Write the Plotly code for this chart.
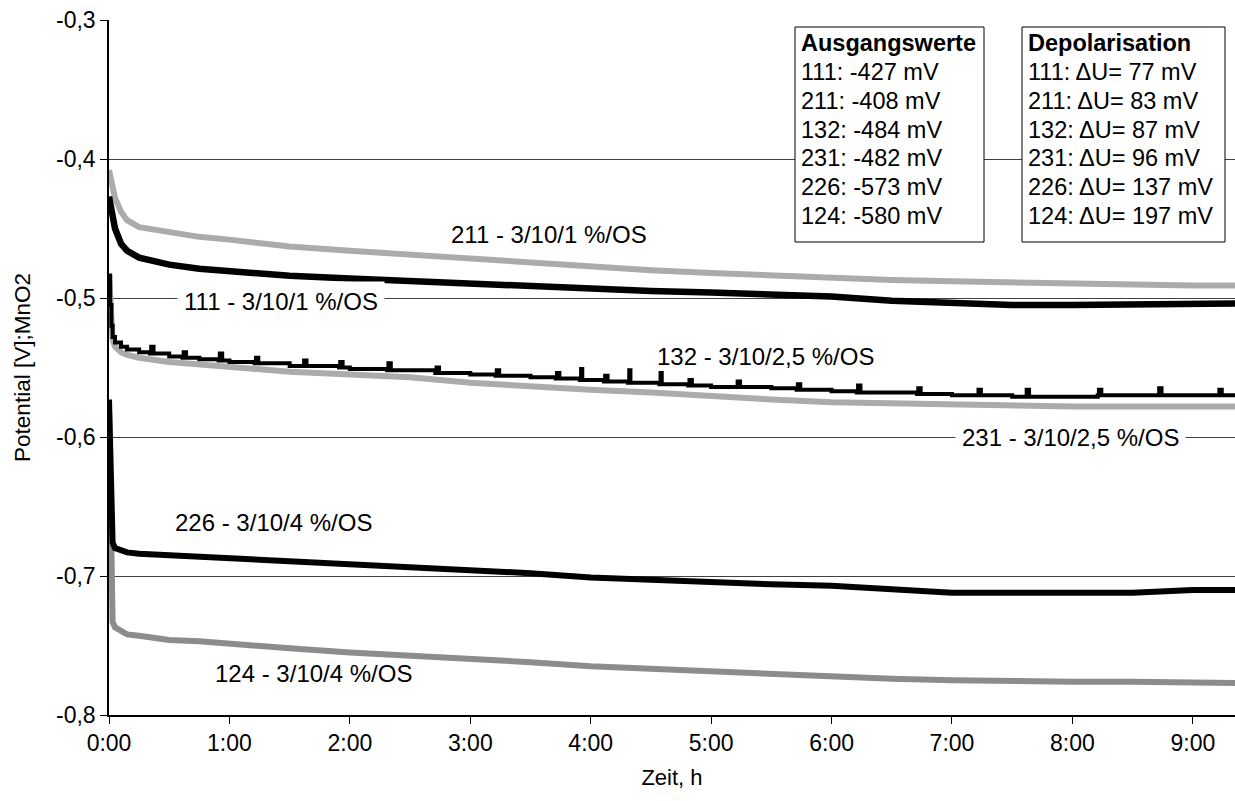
import plotly.graph_objects as go

# ---------------- data ----------------
T = [0, 0.01, 0.02, 0.03, 0.05, 0.1, 0.15, 0.25, 0.5, 0.75, 1, 1.5, 2, 2.5, 3,
     3.5, 4, 4.5, 5, 5.5, 6, 6.5, 7, 7.5, 8, 8.5, 9, 9.35]

v111 = [-0.427, -0.432, -0.437, -0.442, -0.450, -0.461, -0.466, -0.471, -0.476, -0.479,
        -0.481, -0.484, -0.486, -0.488, -0.490, -0.492, -0.494, -0.495, -0.496, -0.497,
        -0.499, -0.502, -0.504, -0.505, -0.505, -0.505, -0.504, -0.504]
v211 = [-0.408, -0.413, -0.418, -0.422, -0.428, -0.438, -0.444, -0.449, -0.453, -0.456,
        -0.458, -0.463, -0.466, -0.469, -0.472, -0.475, -0.478, -0.480, -0.482, -0.484,
        -0.486, -0.487, -0.488, -0.489, -0.490, -0.490, -0.491, -0.491]
v231 = [-0.482, -0.505, -0.522, -0.530, -0.535, -0.539, -0.541, -0.543, -0.546, -0.548,
        -0.550, -0.553, -0.555, -0.557, -0.561, -0.564, -0.566, -0.568, -0.571, -0.573,
        -0.575, -0.576, -0.577, -0.578, -0.578, -0.578, -0.578, -0.578]
v226 = [-0.573, -0.625, -0.665, -0.676, -0.680, -0.682, -0.683, -0.684, -0.685, -0.686,
        -0.687, -0.690, -0.692, -0.693, -0.695, -0.698, -0.701, -0.703, -0.705, -0.706,
        -0.707, -0.710, -0.712, -0.712, -0.712, -0.712, -0.710, -0.710]
v124 = [-0.580, -0.665, -0.720, -0.733, -0.737, -0.740, -0.742, -0.743, -0.746, -0.747,
        -0.749, -0.752, -0.755, -0.757, -0.760, -0.762, -0.765, -0.767, -0.769, -0.771,
        -0.772, -0.774, -0.775, -0.776, -0.776, -0.776, -0.776, -0.777]

# series 132 is noisy with small spikes, so it has its own time points
t132 = [0, 0.01, 0.02, 0.03, 0.05, 0.1, 0.15, 0.25,
        0.34, 0.35, 0.37, 0.5, 0.61, 0.62, 0.64, 0.75,
        0.91, 0.92, 0.94, 1.0, 1.21, 1.22, 1.24, 1.5,
        1.61, 1.62, 1.64, 1.91, 1.92, 1.94, 2.0,
        2.31, 2.32, 2.34, 2.5, 2.71, 2.72, 2.74, 3.0,
        3.21, 3.22, 3.24, 3.5, 3.71, 3.72, 3.74,
        3.91, 3.92, 3.93, 4.0, 4.11, 4.12, 4.14,
        4.31, 4.32, 4.33, 4.5, 4.57, 4.58, 4.59,
        4.81, 4.82, 4.84, 5.0, 5.21, 5.22, 5.24, 5.5,
        5.71, 5.72, 5.74, 6.0, 6.21, 6.22, 6.24, 6.5,
        6.71, 6.72, 6.74, 7.0, 7.21, 7.22, 7.24, 7.5,
        7.61, 7.62, 7.64, 8.0, 8.21, 8.22, 8.24, 8.5,
        8.71, 8.72, 8.74, 9.0, 9.21, 9.22, 9.24, 9.35]
v132 = [-0.484, -0.505, -0.520, -0.528, -0.532, -0.535, -0.537, -0.539,
        -0.540, -0.535, -0.540, -0.542, -0.543, -0.539, -0.543, -0.544,
        -0.545, -0.540, -0.545, -0.546, -0.547, -0.543, -0.547, -0.549,
        -0.549, -0.545, -0.549, -0.550, -0.546, -0.550, -0.551,
        -0.552, -0.547, -0.552, -0.552, -0.554, -0.550, -0.554, -0.555,
        -0.556, -0.552, -0.556, -0.557, -0.558, -0.554, -0.558,
        -0.559, -0.551, -0.559, -0.559, -0.560, -0.556, -0.560,
        -0.561, -0.552, -0.561, -0.561, -0.562, -0.554, -0.562,
        -0.563, -0.559, -0.563, -0.564, -0.564, -0.560, -0.564, -0.565,
        -0.566, -0.562, -0.566, -0.567, -0.568, -0.563, -0.568, -0.568,
        -0.569, -0.565, -0.569, -0.570, -0.570, -0.566, -0.570, -0.571,
        -0.571, -0.566, -0.571, -0.571, -0.570, -0.566, -0.570, -0.570,
        -0.570, -0.565, -0.570, -0.570, -0.570, -0.566, -0.570, -0.570]

x_ticks = [0, 1, 2, 3, 4, 5, 6, 7, 8, 9]
x_ticktext = ["0:00", "1:00", "2:00", "3:00", "4:00", "5:00", "6:00", "7:00", "8:00", "9:00"]
y_ticks = [-0.8, -0.7, -0.6, -0.5, -0.4, -0.3]
y_ticktext = ["-0,8", "-0,7", "-0,6", "-0,5", "-0,4", "-0,3"]

box1_title = "Ausgangswerte"
box1_lines = ["111: -427 mV", "211: -408 mV", "132: -484 mV", "231: -482 mV",
              "226: -573 mV", "124: -580 mV"]
box2_title = "Depolarisation"
box2_lines = ["111: \u0394U= 77 mV", "211: \u0394U= 83 mV", "132: \u0394U= 87 mV",
              "231: \u0394U= 96 mV", "226: \u0394U= 137 mV", "124: \u0394U= 197 mV"]

# curve labels: (text, x in hours, y in V, white background)
labels = [
    ("211 - 3/10/1 %/OS", 3.65, -0.4545, False),
    ("111 - 3/10/1 %/OS", 1.43, -0.5025, True),
    ("132 - 3/10/2,5 %/OS", 5.45, -0.5424, False),
    ("231 - 3/10/2,5 %/OS", 7.98, -0.6005, True),
    ("226 - 3/10/4 %/OS", 1.37, -0.6612, False),
    ("124 - 3/10/4 %/OS", 1.70, -0.7698, False),
]

FONT = "Liberation Sans, Arial, sans-serif"

# plot-area pixel geometry (for placing the text boxes)
L, R, TOP, BOT = 109, 1235, 20, 715
def px(x):
    return (x - L) / (R - L)
def py(y):
    return 1 - (y - TOP) / (BOT - TOP)

fig = go.Figure()
fig.add_trace(go.Scatter(x=T, y=v231, mode="lines", line=dict(color="#ababab", width=6), name="231"))
fig.add_trace(go.Scatter(x=t132, y=v132, mode="lines",
                         line=dict(color="black", width=4, shape="hv"), name="132"))
fig.add_trace(go.Scatter(x=T, y=v211, mode="lines", line=dict(color="#ababab", width=6), name="211"))
fig.add_trace(go.Scatter(x=T, y=v111, mode="lines", line=dict(color="black", width=6.5), name="111"))
fig.add_trace(go.Scatter(x=T, y=v124, mode="lines", line=dict(color="#8c8c8c", width=6), name="124"))
fig.add_trace(go.Scatter(x=T, y=v226, mode="lines", line=dict(color="black", width=6), name="226"))

annotations = []
for text, x, y, bg in labels:
    annotations.append(dict(
        x=x, y=y, xref="x", yref="y", text=text, showarrow=False,
        font=dict(family=FONT, size=24, color="black"),
        bgcolor="white" if bg else "rgba(0,0,0,0)", borderpad=6,
        xanchor="center", yanchor="middle"))

shapes = []
row_y = [43, 72.5, 101, 129.7, 158.3, 187, 215.5]
for title, lines, bx0, bx1, tx in [(box1_title, box1_lines, 795, 984, 800),
                                    (box2_title, box2_lines, 1022, 1225, 1027)]:
    shapes.append(dict(type="rect", xref="paper", yref="paper",
                       x0=px(bx0), x1=px(bx1), y0=py(242), y1=py(27),
                       line=dict(color="black", width=1), fillcolor="white", layer="above"))
    rows = ["<b>" + title + "</b>"] + lines
    for r, yy in zip(rows, row_y):
        annotations.append(dict(
            x=px(tx), y=py(yy), xref="paper", yref="paper", text=r, showarrow=False,
            xanchor="left", yanchor="middle", align="left", borderpad=0,
            font=dict(family=FONT, size=23.5, color="black")))

fig.update_layout(
    width=1235, height=801,
    margin=dict(l=L, r=1235 - R, t=TOP, b=801 - BOT),
    paper_bgcolor="white", plot_bgcolor="white",
    showlegend=False,
    font=dict(family=FONT, size=23, color="black"),
    annotations=annotations,
    shapes=shapes,
    xaxis=dict(range=[0, 9.35], tickvals=x_ticks, ticktext=x_ticktext,
               showgrid=False, zeroline=False, showline=True, linecolor="black",
               linewidth=1.5, ticks="outside", ticklen=7, tickcolor="black",
               tickfont=dict(family=FONT, size=23),
               title=dict(text="Zeit, h", font=dict(family=FONT, size=22), standoff=14)),
    yaxis=dict(range=[-0.8, -0.3], tickvals=y_ticks, ticktext=y_ticktext,
               showgrid=True, gridcolor="#404040", gridwidth=1,
               zeroline=False, showline=True, linecolor="black", linewidth=1.5,
               ticks="outside", ticklen=7, tickcolor="black",
               tickfont=dict(family=FONT, size=23),
               title=dict(text="Potential [V];MnO2", font=dict(family=FONT, size=22.5), standoff=19)),
)

fig.write_html("out.html")
